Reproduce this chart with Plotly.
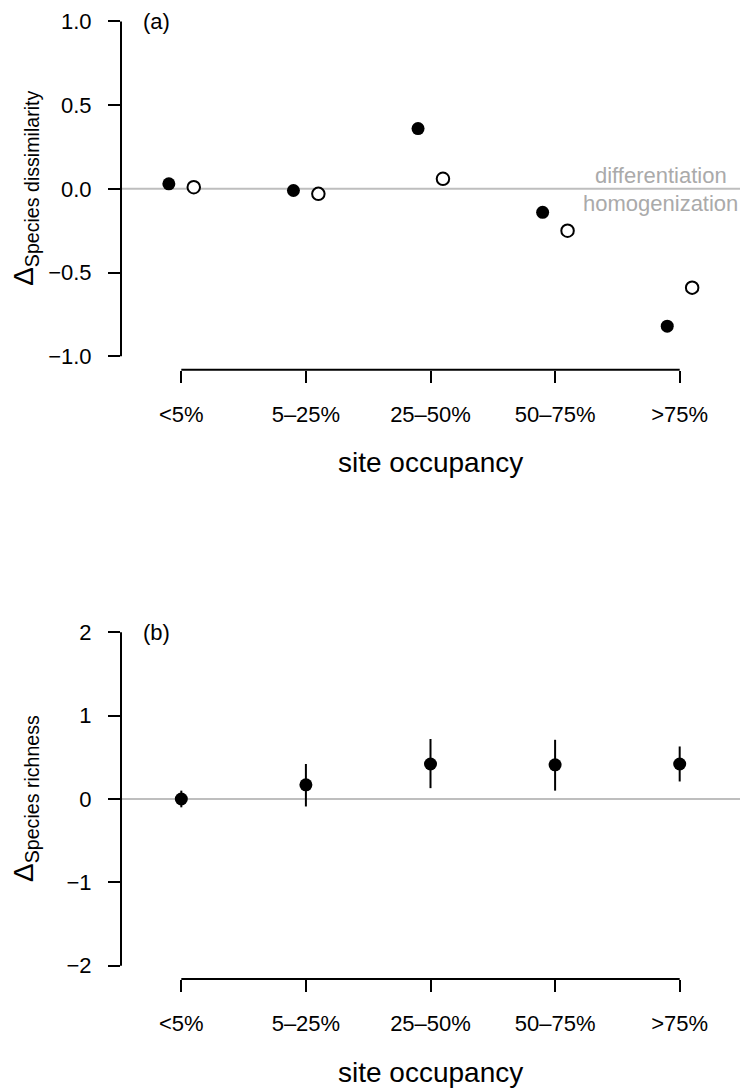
import plotly.graph_objects as go

# ---- data ----
categories = ["&lt;5%", "5–25%", "25–50%", "50–75%", "&gt;75%"]
cat_pos = [1, 2, 3, 4, 5]
dissim_filled = [0.03, -0.01, 0.36, -0.14, -0.82]
dissim_open = [0.01, -0.03, 0.06, -0.25, -0.59]
richness = [0.0, 0.17, 0.42, 0.41, 0.42]
richness_lo = [-0.10, -0.09, 0.13, 0.10, 0.21]
richness_hi = [0.10, 0.42, 0.72, 0.71, 0.63]
ytick_a = [-1.0, -0.5, 0.0, 0.5, 1.0]
ytick_a_text = ["−1.0", "−0.5", "0.0", "0.5", "1.0"]
ytick_b = [-2, -1, 0, 1, 2]
ytick_b_text = ["−2", "−1", "0", "1", "2"]

FONT = "Liberation Sans, Arial, Helvetica, sans-serif"
OFF = 0.1

fig = go.Figure()

fig.add_trace(go.Scatter(
    x=[p - OFF for p in cat_pos], y=dissim_filled, mode="markers",
    marker=dict(size=13, color="black", line=dict(width=0)),
    xaxis="x", yaxis="y", showlegend=False, cliponaxis=False))
fig.add_trace(go.Scatter(
    x=[p + OFF for p in cat_pos], y=dissim_open, mode="markers",
    marker=dict(size=12.5, color="white", line=dict(width=2, color="black")),
    xaxis="x", yaxis="y", showlegend=False, cliponaxis=False))

fig.add_trace(go.Scatter(
    x=cat_pos, y=richness, mode="markers",
    marker=dict(size=13, color="black", line=dict(width=0)),
    error_y=dict(type="data", symmetric=False,
                 array=[h - v for h, v in zip(richness_hi, richness)],
                 arrayminus=[v - l for v, l in zip(richness, richness_lo)],
                 color="black", thickness=2, width=0),
    xaxis="x2", yaxis="y2", showlegend=False, cliponaxis=False))

xrange = [0.516, 5.484]
axis_common = dict(showgrid=False, zeroline=False, showline=False,
                   ticks="outside", ticklen=12, tickwidth=2, tickcolor="black",
                   tickfont=dict(family=FONT, size=22, color="black"))

fig.update_layout(
    width=742, height=1088,
    margin=dict(l=121, r=2, t=8, b=109),
    paper_bgcolor="white", plot_bgcolor="white",
    font=dict(family=FONT, color="black"),
    xaxis=dict(domain=[0, 1], range=xrange, anchor="y",
               tickvals=cat_pos, ticktext=categories, ticklabelstandoff=13, **axis_common),
    yaxis=dict(domain=[0.6275, 1.0], range=[-1.08, 1.08], anchor="x",
               tickvals=ytick_a, ticktext=ytick_a_text, ticklabelstandoff=12, **axis_common),
    xaxis2=dict(domain=[0, 1], range=xrange, anchor="y2",
                tickvals=cat_pos, ticktext=categories, ticklabelstandoff=13, **axis_common),
    yaxis2=dict(domain=[0, 0.3708], range=[-2.16, 2.16], anchor="x2",
                tickvals=ytick_b, ticktext=ytick_b_text, ticklabelstandoff=12, **axis_common),
)

shapes = []
for xa, ya, y0, y1 in [("x", "y", -1, 1), ("x2", "y2", -2, 2)]:
    # zero reference line
    shapes.append(dict(type="line", xref=f"{xa} domain", x0=0, x1=1, yref=ya, y0=0, y1=0,
                       line=dict(color="#bebebe", width=2), layer="below"))
    # y axis line (tick to tick)
    shapes.append(dict(type="line", xref=f"{xa} domain", x0=0, x1=0, yref=ya, y0=y0, y1=y1,
                       line=dict(color="black", width=2)))
    # x axis line (tick to tick)
    shapes.append(dict(type="line", xref=xa, x0=cat_pos[0], x1=cat_pos[-1],
                       yref=f"{ya} domain", y0=0, y1=0,
                       line=dict(color="black", width=2)))
fig.update_layout(shapes=shapes)

ann = []
# panel labels
ann.append(dict(text="(a)", xref="x", yref="y", x=0.68, y=1.0, xanchor="left", yanchor="middle",
                showarrow=False, font=dict(family=FONT, size=22, color="black")))
ann.append(dict(text="(b)", xref="x2", yref="y2", x=0.68, y=2.0, xanchor="left", yanchor="middle",
                showarrow=False, font=dict(family=FONT, size=22, color="black")))
# direction labels
ann.append(dict(text="differentiation", xref="x", yref="y", x=4.848, y=0.08, xanchor="center",
                yanchor="middle", showarrow=False, font=dict(family=FONT, size=22, color="#aaaaaa")))
ann.append(dict(text="homogenization", xref="x", yref="y", x=4.848, y=-0.09, xanchor="center",
                yanchor="middle", showarrow=False, font=dict(family=FONT, size=22, color="#aaaaaa")))
# x titles
for xa, ya in [("x", "y"), ("x2", "y2")]:
    ann.append(dict(text="site occupancy", xref=f"{xa} domain", yref=f"{ya} domain", x=0.5, y=0,
                    xanchor="center", yanchor="middle", yshift=-93, showarrow=False,
                    font=dict(family=FONT, size=28, color="black")))
# y titles
ann.append(dict(text="Δ<sub>Species dissimilarity</sub>", xref="x domain", yref="y", x=0, y=0,
                xanchor="center", yanchor="middle", xshift=-95, textangle=-90, showarrow=False,
                font=dict(family=FONT, size=28, color="black")))
ann.append(dict(text="Δ<sub>Species richness</sub>", xref="x2 domain", yref="y2", x=0, y=0,
                xanchor="center", yanchor="middle", xshift=-95, textangle=-90, showarrow=False,
                font=dict(family=FONT, size=28, color="black")))
fig.update_layout(annotations=ann)

fig.write_html("out.html")
